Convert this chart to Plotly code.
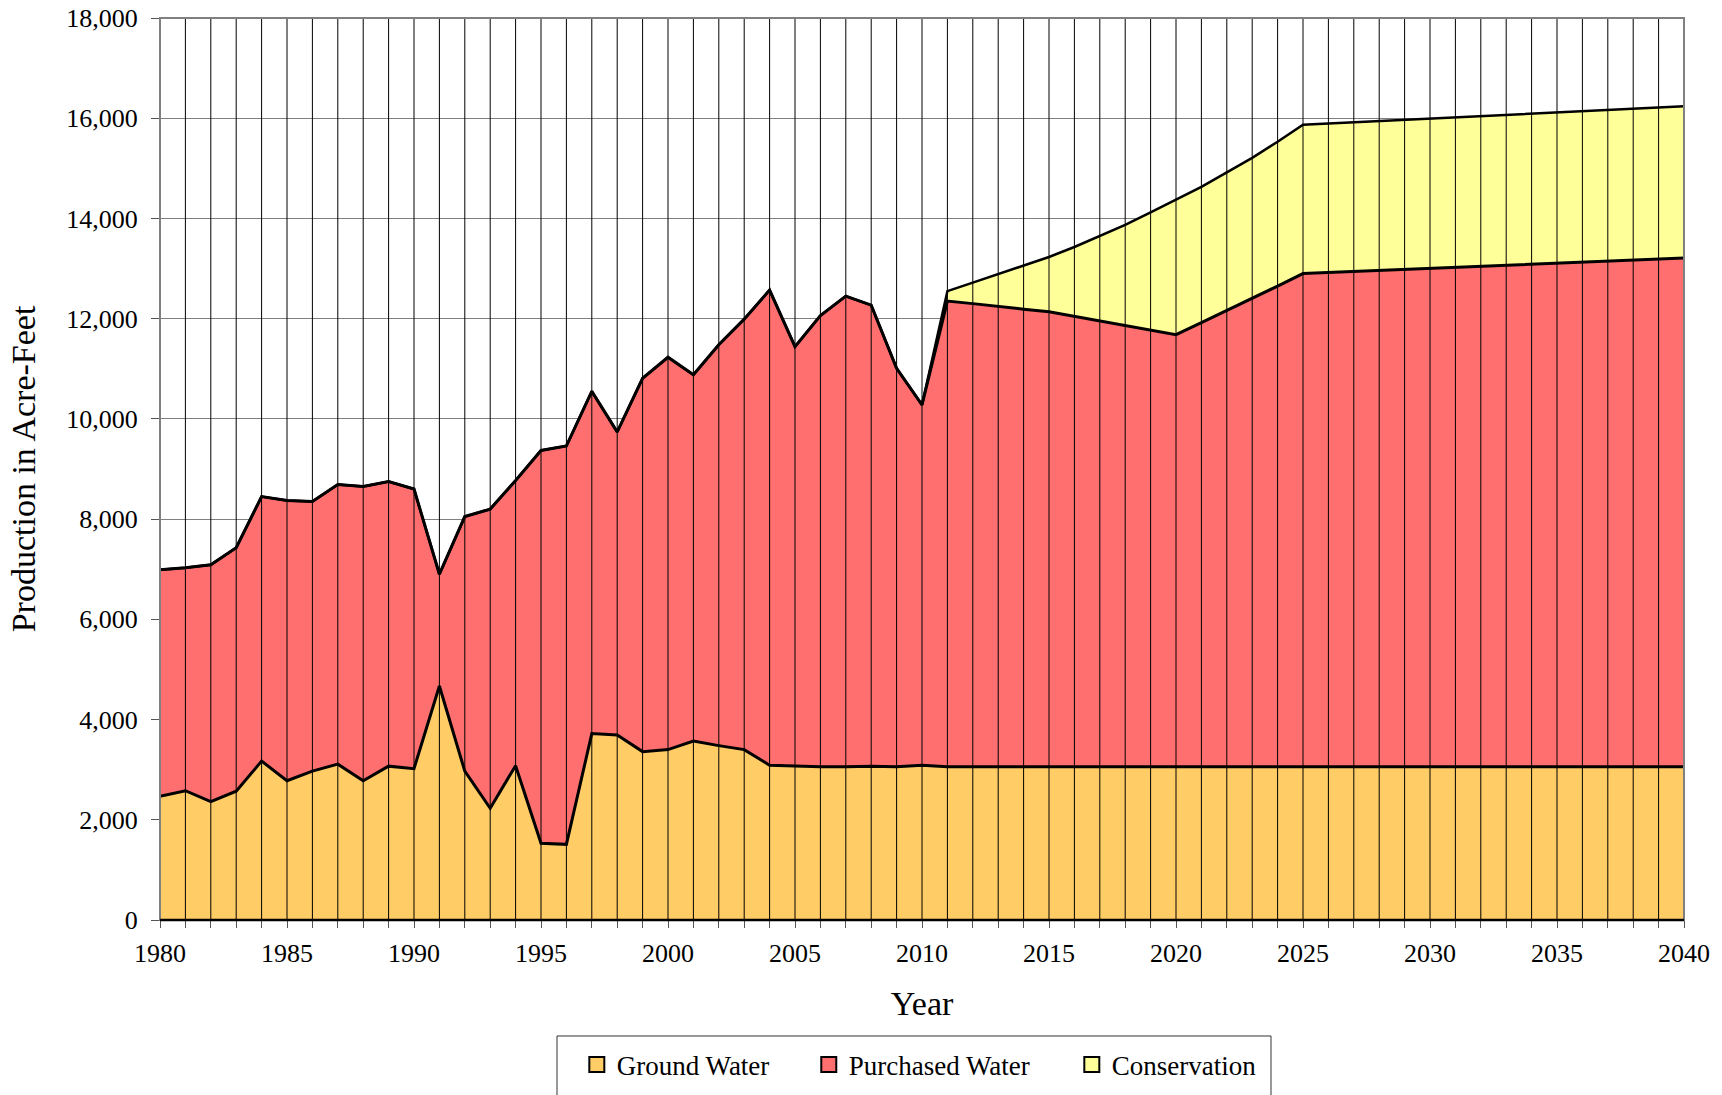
import plotly.graph_objects as go

years = list(range(1980, 2041))

ground_water = [2470, 2580, 2360, 2570, 3170, 2780, 2970, 3110, 2780, 3070,
                3020, 4670, 2970, 2230, 3080, 1530, 1510, 3720, 3690, 3360,
                3400, 3570, 3480, 3400, 3090, 3070, 3060, 3060, 3070, 3060,
                3090, 3060, 3060, 3060, 3060, 3060, 3060, 3060, 3060, 3060,
                3060, 3060, 3060, 3060, 3060, 3060, 3060, 3060, 3060, 3060,
                3060, 3060, 3060, 3060, 3060, 3060, 3060, 3060, 3060, 3060,
                3060]

purchased_water = [4520, 4450, 4730, 4860, 5280, 5590, 5380, 5580, 5870, 5680,
                   5580, 2230, 5080, 5970, 5690, 7840, 7950, 6830, 6050, 7450,
                   7830, 7310, 8000, 8590, 9480, 8370, 9000, 9390, 9200, 7950,
                   7190, 9290, 9240, 9180, 9130, 9080, 8990, 8900, 8810, 8720,
                   8620, 8860, 9100, 9340, 9590, 9840, 9860, 9880, 9900, 9920,
                   9940, 9960, 9980, 10000, 10020, 10040, 10060, 10080, 10100, 10120,
                   10150]

conservation_years = list(range(2011, 2041))
conservation = [200, 420, 650, 870, 1090, 1380, 1690, 2000, 2340, 2690,
                2710, 2760, 2810, 2880, 2970, 2975, 2980, 2985, 2990, 2995,
                3000, 3005, 3010, 3015, 3020, 3022, 3024, 3026, 3028, 3030]

series_names = ["Ground Water", "Purchased Water", "Conservation"]
series_colors = ["#FFCC66", "#FF6F6F", "#FFFF99"]

tick_years = list(range(1980, 2041, 5))
y_ticks = list(range(0, 18001, 2000))

FONT = "Liberation Serif, Times New Roman, serif"

fig = go.Figure()
fig.add_trace(go.Scatter(x=years, y=ground_water, name=series_names[0], mode="lines",
                         stackgroup="s", stackgaps="infer zero", showlegend=False,
                         line=dict(color="black", width=3), fillcolor=series_colors[0]))
fig.add_trace(go.Scatter(x=years, y=purchased_water, name=series_names[1], mode="lines",
                         stackgroup="s", showlegend=False,
                         line=dict(color="black", width=3), fillcolor=series_colors[1]))
fig.add_trace(go.Scatter(x=conservation_years, y=conservation, name=series_names[2], mode="lines",
                         stackgroup="s", showlegend=False,
                         line=dict(color="black", width=2.5), fillcolor=series_colors[2]))

# legend entries (square swatches), one legend per entry for exact placement
legend_ids = ["legend", "legend2", "legend3"]
legend_x = [0.2735, 0.4257, 0.5983]
for name, color, lid in zip(series_names, series_colors, legend_ids):
    fig.add_trace(go.Scatter(x=[None], y=[None], mode="markers", name=name, legend=lid,
                             marker=dict(symbol="square", size=15, color=color,
                                         line=dict(color="black", width=2))))

# vertical year lines drawn over the areas
for yr in years:
    fig.add_shape(type="line", xref="x", yref="y domain", x0=yr, x1=yr, y0=0, y1=1,
                  line=dict(color="black", width=1), layer="above")

# plot border
fig.add_shape(type="rect", xref="x domain", yref="y domain", x0=0, x1=1, y0=0, y1=1,
              line=dict(color="#808080", width=2), layer="above")
fig.add_shape(type="line", xref="x domain", yref="y domain", x0=0, x1=1, y0=0, y1=0,
              line=dict(color="black", width=2.5), layer="above")

# legend frame
fig.add_shape(type="rect", xref="paper", yref="paper", x0=0.2605, x1=0.729, y0=-0.1286, y1=-0.25,
              line=dict(color="#333333", width=1), layer="above")

legend_common = dict(orientation="h", yanchor="middle", y=-0.1608, xanchor="left",
                     font=dict(family=FONT, size=27, color="black"),
                     bgcolor="rgba(0,0,0,0)", borderwidth=0, itemwidth=30)

fig.update_layout(
    width=1722, height=1095,
    margin=dict(l=160, r=38, t=18, b=175, autoexpand=False),
    paper_bgcolor="white", plot_bgcolor="white",
    font=dict(family=FONT, size=26, color="black"),
    showlegend=True,
    legend=dict(x=legend_x[0], **legend_common),
    legend2=dict(x=legend_x[1], **legend_common),
    legend3=dict(x=legend_x[2], **legend_common),
    xaxis=dict(range=[1980, 2040], tickvals=tick_years, ticktext=[str(t) for t in tick_years],
               ticks="outside", ticklen=7, tickcolor="#555555", showgrid=False, zeroline=False,
               minor=dict(dtick=1, tick0=1980, ticks="outside", ticklen=7, tickcolor="#555555", showgrid=False),
               tickfont=dict(family=FONT, size=26), showline=False, automargin=False,
               ticklabelstandoff=3, ticklabeloverflow="allow",
               title=dict(text="Year", font=dict(family=FONT, size=34), standoff=23)),
    yaxis=dict(range=[0, 18000], tickvals=y_ticks, tickformat=",d",
               ticks="outside", ticklen=8, tickcolor="#555555",
               showgrid=True, gridcolor="#808080", gridwidth=1, zeroline=False,
               tickfont=dict(family=FONT, size=26), showline=False, automargin=False,
               ticklabelstandoff=8, ticklabeloverflow="allow",
               title=dict(text="Production in Acre-Feet", font=dict(family=FONT, size=34), standoff=20)),
)

# remove the default 8px page margin so the figure fills the window exactly
fig.write_html("out.html", config={"displayModeBar": False},
               post_script="document.body.style.margin='0';")
